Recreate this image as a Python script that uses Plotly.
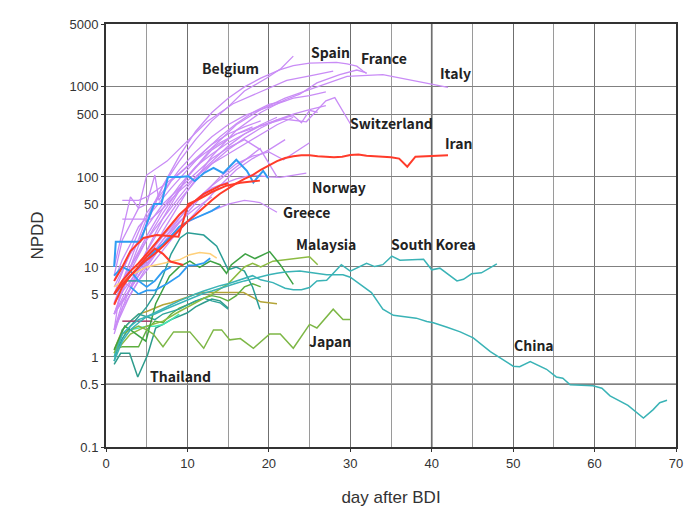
import numpy as np
import plotly.graph_objects as go

# ---------------- data: (day after BDI, NPDD) ----------------
belgium = [(1,4),(3,12),(5,35),(7,80),(9,150),(11,260),(13,420),(15,600),(17,900),(19.7,1250),(21.5,1600),(23,2200)]
spain = [(1,3),(3,10),(5,30),(7,80),(9,170),(11,320),(13,520),(15,750),(17,1000),(19,1250),(21.4,1560),(23,1720),(25,1840),(28.3,1870),(29.6,1800),(30.8,1700),(31.6,1490),(32,1410)]
france = [(1,3),(4,8),(7,25),(10,70),(13,170),(16,330),(19,520),(22,720),(23.8,830),(25.9,1110),(28.7,1370),(30.8,1540),(32,1430)]
italy = [(1,5),(4,14),(7,40),(10,100),(13,210),(16,380),(19,560),(22,750),(24.5,900),(26.7,1040),(29.6,1310),(34,1370),(38.2,1160),(42,990)]
switzerland = [(1,3),(4,10),(7,35),(10,100),(13,200),(16,300),(19,370),(21.8,440),(24.6,410),(25.7,530),(27,700),(28.1,760),(29,560),(30,390)]
norway = [(1,3),(4,8),(7,20),(10,45),(13,75),(16,95),(18,105),(20,100),(21.4,99),(23,104),(24.6,110)]
greece = [(1,2),(3,5),(5,10),(7,18),(9,28),(11,35),(13,42),(15,50),(17,55),(18.9,52),(21,40.5)]
purple_a = [(1,5),(3,15),(5,40),(7,70),(9,120),(11,190),(13,280),(15,380),(17,480),(19,560),(21,650),(23,750),(25,800),(27,880)]
purple_b = [(1,8),(2,20),(4,45),(5,105),(7.5,150),(9.9,245),(12.4,410),(15.6,650),(18.9,870),(22.2,1180),(25.5,1350),(27.9,1500)]
purple_c = [(1,2),(3,6),(5,15),(7,30),(9,55),(11,90),(13,140),(15,200),(17,270),(19,350),(21,430),(23,500),(25,560),(27,620)]
purple_d = [(1,3),(3,9),(5,20),(7,35),(9,60),(11,100),(13,150),(15,220),(17,300),(19,380),(21,460)]
purple_e = [(1,5),(3,10),(5,22),(7,45),(9,80),(11,130),(13,180),(15,240),(17,300),(19,370),(21,430),(23,480),(24,400),(25,550),(26,520)]
purple_f = [(2,55),(3,55),(4,55),(5,60),(7,80),(9,110),(11,160),(13,230),(15,300),(17,360),(19,420)]
purple_g = [(2,34),(4,34),(5.5,34),(7,45),(9,70),(11,100),(13,140),(15,180),(17,230),(19,300),(21,380),(23,460)]
purple_h = [(1,10),(2,25),(3,60),(4,45),(5,50),(6,105),(6.5,55),(8,90),(10,130),(12,180),(14,240),(16,300),(18,360)]
purple_i = [(1,2),(2,4),(4,8),(6,14),(8,24),(10,40),(12,65),(14,100),(16,140),(18,170),(20,190),(21.8,155),(25,240)]
purple_j = [(1,1.8),(2,3.5),(4,7),(6,12),(8,20),(10,32),(12,50),(14,80),(16,120),(18,160),(20,200),(22,260)]
purple_k = [(1,6),(3,14),(5,28),(7,50),(9,75),(11,110),(13,160),(15,210),(17,260),(19,200),(21,100)]
purple_l = [(1,4),(3,7),(5,13),(7,22),(9,35),(11,55),(13,80),(15,110),(17,150),(19,210)]
purple_m = [(1,2),(1.5,4),(2,7),(3,6),(4,9),(5,12),(7,20),(9,32),(11,45),(13,60)]
purple_n = [(1,7),(2,12),(3,18),(4,28),(6,45),(8,75),(10,120),(12,190),(14,280),(16,390),(18,520),(20,640),(22,700)]

iran = [(1,5),(2,6.5),(3,8),(4,10),(5,12),(6,14),(7,17),(8,21),(9,26),(10,32),(11,38),(12,46),(13,55),(14,65),(15,75),(16,85),(17,95),(18,105),(19,120),(20,135),(21,150),(22,162),(23,170),(24,174),(25,174),(26,170),(27,168),(28,165),(29,168),(30,175),(31,178),(32,172),(33,170),(34,168),(35,165),(36,160),(37,130),(38,168),(39,170),(40,172),(41,174),(42,174)]
red_b = [(1,7),(2,10),(3,15),(4.6,21),(6.2,22.6),(8.1,22),(8.9,21.7),(10.1,50),(11.5,57),(13,68),(14.8,80),(16.5,86),(18.9,91)]
red_c = [(1,3.8),(2,6),(3,8),(4,10),(5,13),(6,16),(7,14),(7.9,11.5),(9.5,10.5)]
red_d = [(1,5),(2,7),(3,9),(4,11),(5,14),(6,18),(7,23),(8,30),(9,38),(10,46),(11,55),(12,65),(13,72),(14,80),(15,85)]

blue_a = [(1,10),(1.2,19),(2,19),(4.2,19),(5.9,50),(6.8,50),(7.6,100),(9,100),(10.1,102),(10.9,90),(12,110),(13.2,126),(14.4,110),(16,155),(17.3,117),(18.1,87),(19.3,117),(19.9,97)]
blue_b = [(1,5),(3,8),(5,12),(6,15),(7,18),(8,22),(9,28),(10,32),(11,35),(12,38),(13,42),(14,48)]
blue_c = [(3,6),(4,5),(5,5.5),(6,5.5),(7.5,6.5),(9,8),(10.1,10.4),(11,10.5),(12,11),(12.8,12.5)]
blue_d = [(1,8),(2,10),(3,9),(4,7),(5,6),(6,7),(7,9),(8,10)]

orange_a = [(1,6),(3,8),(5,10),(7,11),(9,12),(10.3,13.7),(11.5,14.5),(12.8,14),(13.6,12.5)]
olive_a = [(1,1.2),(2,2),(3,2.5),(4,3),(5,3.2),(6,3.5),(7,3.8),(8,4),(9,4.3),(10,4.6),(11,5),(11.9,5.2),(14,5.2),(16.9,5.2),(18,4.6),(19,4.1),(20,4.0),(21,3.9)]

malaysia = [(1,1.2),(2.3,2.2),(3,2.0),(4.9,1.5),(6.1,3.9),(7.8,7.9),(9,10),(10.3,11.6),(11.5,9.9),(12.8,11.6),(14,10.6),(14.8,8.5),(15.4,10.6),(17.1,14),(18.3,12.4),(20.1,14.8),(21.4,10.6),(23,6.4)]
lime_a = [(1,1.1),(3,1.8),(5,2.2),(7,2.5),(9,3.2),(11,4),(13,5),(15,6.5),(16,8),(17,10),(18,11),(19,10),(20.5,11.6),(22.8,12.4),(25,13),(26,10.6)]
japan = [(1,1.1),(2,1.8),(3,2.0),(4,2.2),(5,2.0),(5.8,1.8),(7,1.3),(8.3,1.9),(10.3,1.9),(12,1.25),(13.2,2),(14.2,2),(15.2,1.55),(16.5,1.6),(18.1,1.25),(20.1,1.8),(21.4,1.8),(23,1.25),(25,2.3),(25.9,2.1),(27.9,3.4),(29.1,2.6),(30,2.6)]
green_c = [(1,1.2),(2,1.3),(3,1.3),(4,1.3),(5,2.0),(6,2.5),(7,2.4),(8,3),(9,3.5),(10,3.8),(11,4.2),(12,4.5),(13,4.8),(14,4.6),(15,4.2),(16,4.8),(17,6),(18,6.5),(19,6)]

thailand = [(1,0.83),(1.8,1.1),(2.9,1.1),(3.9,0.6),(5.1,1.05),(6.1,2.1),(7,2.3),(8,2.6),(10,3.1),(11,3.6),(12,4.0),(13,4.4),(14,4.2),(15,3.5)]
china = [(1,1),(2,1.8),(3,2.2),(4,2.6),(5,2.8),(6,3),(7,3.3),(8,3.6),(9,4),(10,4.3),(11,4.7),(12,5.1),(13,5.4),(14,5.8),(15,6.2),(16,6.6),(17,7),(18,7.4),(19,7.8),(20,8.2),(21,8.5),(22,8.8),(23.8,9),(27.1,8.2),(29.1,8.2),(30,7.7),(32.6,5.2),(34,3.4),(35.3,2.9),(36.9,2.8),(38.1,2.7),(39.4,2.48),(40.2,2.4),(41.8,2.15),(43.5,1.9),(45.1,1.63),(47.2,1.15),(50,0.79),(50.8,0.78),(52.1,0.89),(54.1,0.73),(55.3,0.6),(56.1,0.58),(57,0.49),(59.8,0.48),(60.9,0.45),(61.9,0.37),(64.1,0.29),(66,0.21),(67.2,0.26),(68,0.31),(68.9,0.33)]
south_korea = [(1,0.9),(2,1.5),(3,2),(4,2.4),(5,2.8),(6,3.1),(7,3.5),(8,3.8),(9,4.2),(10,4.6),(11,5),(12,5.4),(13,5.8),(14,6.2),(15,6.5),(16,7),(17,7.5),(18,8),(19,7.2),(20.5,6.7),(22,5.8),(23,5.6),(24,5.6),(25,5.9),(25.9,7),(27.1,7.1),(28.9,10.6),(30,9),(32,11),(33,10.1),(34,10.6),(35.1,13.2),(36.1,11.9),(39,12.2),(40,9.3),(41,9.7),(43.1,7),(43.9,7.3),(44.9,8.4),(46.1,8.6),(48,10.8)]
teal_c = [(1,1),(2,1.6),(3,2.2),(4,2.8),(5,3.6),(6,5),(7,8),(8,14),(9.1,21),(10,24),(12,22.6),(13.6,17),(15,9.3),(16,10),(17,9),(18,6),(18.9,3.4)]
teal_d = [(1,0.9),(2,2),(3,2.5),(4,3),(5,2.8),(6,2.6),(7,3),(8,3.2),(9,3.4),(10,3.8),(11,4.2),(12,4.5),(13,4.2),(14,4),(15,3.4)]
teal_flat = [(2.3,7),(5.8,7)]
mint_a = [(3,2.0),(4,2.1),(5,2.2),(6,2.2),(7,2.3),(8,2.6),(9,3)]
maroon_a = [(2,2.5),(5.7,2.5)]

# country labels: (text, day, NPDD)
labels = [("Belgium",15.35,1610),("Spain",27.6,2470),("France",34.1,2070),("Italy",42.9,1420),
          ("Switzerland",35.1,394),("Iran",43.4,238),("Norway",28.6,76.7),("Greece",24.6,40.9),
          ("Malaysia",27.0,17.8),("South Korea",40.2,17.8),("Japan",27.5,1.51),("China",52.6,1.37),
          ("Thailand",9.1,0.61)]

y_tickvals = [0.1, 0.5, 1, 5, 10, 50, 100, 500, 1000, 5000]
y_ticktext = ["0.1", "0.5", "1", "5", "10", "50", "100", "500", "1000", "5000"]
x_tickvals = [0, 10, 20, 30, 40, 50, 60, 70]
dark_x_grid = [40]
dark_y_grid = [0.5]

# ---------------- styles ----------------
PURPLE = "#C98CF6"
RED = "#FF3B2A"
BLUE = "#2E9CF2"
TEAL = "#3AB3B6"
series = [
    (purple_a, PURPLE, 1.3), (purple_b, PURPLE, 1.3), (purple_c, PURPLE, 1.3), (purple_d, PURPLE, 1.3),
    (purple_e, PURPLE, 1.3), (purple_f, PURPLE, 1.3), (purple_g, PURPLE, 1.3), (purple_h, PURPLE, 1.3),
    (purple_i, PURPLE, 1.3), (purple_j, PURPLE, 1.3), (purple_k, PURPLE, 1.3), (purple_l, PURPLE, 1.3),
    (purple_m, PURPLE, 1.3), (purple_n, PURPLE, 1.3),
    (belgium, PURPLE, 1.3), (spain, PURPLE, 1.3), (france, PURPLE, 1.3), (italy, PURPLE, 1.3),
    (switzerland, PURPLE, 1.3), (norway, PURPLE, 1.3), (greece, PURPLE, 1.3),
    (olive_a, "#B3A437", 1.4), (green_c, "#5DAE3E", 1.4), (thailand, "#2E9C8C", 1.5),
    (teal_d, "#2FA39A", 1.4), (teal_c, "#2B9E96", 1.5), (mint_a, "#45E6B0", 1.5), (maroon_a, "#A83A66", 1.5),
    (japan, "#7DB746", 1.5), (lime_a, "#8CBB42", 1.5), (malaysia, "#3EA244", 1.5),
    (south_korea, TEAL, 1.5), (china, TEAL, 1.5), (teal_flat, "#2A9D9A", 1.5),
    (orange_a, "#FFD07A", 1.5),
    (blue_d, BLUE, 1.8), (blue_c, BLUE, 1.8), (blue_b, BLUE, 1.8), (blue_a, BLUE, 2.0),
    (red_c, RED, 2.0), (red_d, RED, 2.0), (red_b, RED, 2.0), (iran, RED, 2.0),
]

fig = go.Figure()

y_lo, y_hi = -1, np.log10(5000)
for gx in dark_x_grid:
    fig.add_shape(type="line", xref="x", yref="paper", x0=gx, x1=gx, y0=0, y1=1,
                  line=dict(color="#555555", width=1.6), layer="below")
for gy in dark_y_grid:
    frac = (np.log10(gy) - y_lo) / (y_hi - y_lo)
    fig.add_shape(type="line", xref="paper", yref="paper", x0=0, x1=1, y0=frac, y1=frac,
                  line=dict(color="#555555", width=1.4), layer="below")

for pts, col, w in series:
    d, v = zip(*pts)
    fig.add_trace(go.Scatter(x=list(d), y=list(v), mode="lines",
                             line=dict(color=col, width=w), hoverinfo="skip", showlegend=False))

for txt, d, v in labels:
    fig.add_annotation(x=d, y=np.log10(v), text="<b>" + txt + "</b>", showarrow=False,
                       font=dict(family="Noto Sans CJK JP, Noto Sans, sans-serif", size=14, color="#222222"),
                       xanchor="center", yanchor="middle")

fig.update_layout(
    width=686, height=518,
    margin=dict(l=98, r=18, t=9, b=79),
    paper_bgcolor="white", plot_bgcolor="white",
    font=dict(family="Liberation Sans, Arial, sans-serif", color="#333333"),
    showlegend=False,
)
fig.update_xaxes(
    range=[0, 70], tickvals=x_tickvals, ticks="outside", ticklen=3, tickcolor="#333",
    tickfont=dict(size=13, color="#333"),
    showgrid=True, gridcolor="#6f6f6f", gridwidth=1,
    minor=dict(dtick=5, showgrid=True, gridcolor="#9a9a9a", gridwidth=1),
    showline=True, linecolor="#333333", linewidth=2, mirror=True, zeroline=False,
    title=dict(text="day after BDI", font=dict(size=17, color="#333"), standoff=22),
)
fig.update_yaxes(
    type="log", range=[y_lo, y_hi], tickvals=y_tickvals, ticktext=y_ticktext,
    ticks="outside", ticklen=3, tickcolor="#333", tickfont=dict(size=13, color="#333"),
    showgrid=True, gridcolor="#808080", gridwidth=1,
    showline=True, linecolor="#333333", linewidth=2, mirror=True, zeroline=False,
    title=dict(text="NPDD", font=dict(size=17, color="#333"), standoff=22),
)

fig.write_html("out.html")
